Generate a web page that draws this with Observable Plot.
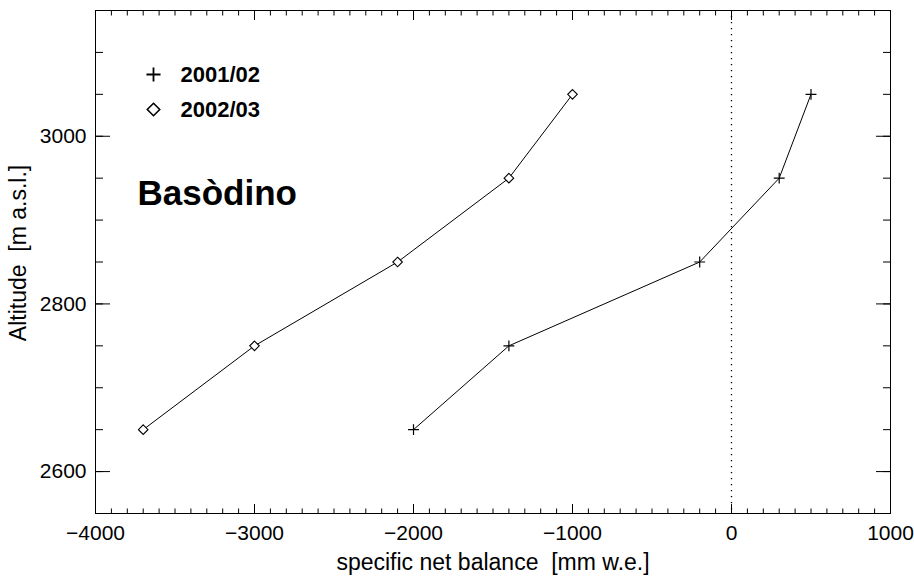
<!DOCTYPE html>
<html>
<head>
<meta charset="utf-8">
<script src="https://cdn.jsdelivr.net/npm/d3@7"></script>
<script src="https://cdn.jsdelivr.net/npm/@observablehq/plot@0.6"></script>
<style>
  html, body { margin: 0; padding: 0; background: #fff; }
  #chart svg { display: block; }
</style>
</head>
<body>
<div id="chart"></div>
<script>
// Data
const altitudes = [2650, 2750, 2850, 2950, 3050];
const balance2001 = [-2000, -1400, -200, 300, 500];
const balance2002 = [-3700, -3000, -2100, -1400, -1000];
const seriesNames = ["2001/02", "2002/03"];
const xTicks = [-4000, -3000, -2000, -1000, 0, 1000];
const yTicks = [2600, 2800, 3000];
const xMinorTicks = d3.range(-4000, 1001, 100);
const yMinorTicks = d3.range(2550, 3151, 50);
const xLabel = "specific net balance  [mm w.e.]";
const yLabel = "Altitude  [m a.s.l.]";
const glacier = "Basòdino";

const s1 = altitudes.map((a, i) => ({x: balance2001[i], y: a}));
const s2 = altitudes.map((a, i) => ({x: balance2002[i], y: a}));

const font = "'Liberation Sans', Arial, Helvetica, sans-serif";
const fmt = d => d < 0 ? "\u2212" + Math.abs(d) : String(d);

const chart = Plot.plot({
  width: 914,
  height: 576,
  marginLeft: 95,
  marginRight: 24,
  marginTop: 10,
  marginBottom: 63,
  style: {fontFamily: font, fontSize: "21px", color: "#000", background: "#fff"},
  x: {domain: [-4000, 1000]},
  y: {domain: [2550, 3150]},
  marks: [
    // zero line
    Plot.ruleX([0], {stroke: "#000", strokeWidth: 1.3, strokeDasharray: "1.3,4.7"}),
    // minor ticks
    Plot.axisX({anchor: "bottom", ticks: xMinorTicks, tickSize: -4.5, fill: "none", label: null}),
    Plot.axisX({anchor: "top", ticks: xMinorTicks, tickSize: -4.5, fill: "none", label: null}),
    Plot.axisY({anchor: "left", ticks: yMinorTicks, tickSize: -8, fill: "none", label: null}),
    Plot.axisY({anchor: "right", ticks: yMinorTicks, tickSize: -8, fill: "none", label: null}),
    // major ticks
    Plot.axisX({anchor: "bottom", ticks: xTicks, tickSize: -9, fill: "none", label: null}),
    Plot.axisX({anchor: "top", ticks: xTicks, tickSize: -9, fill: "none", label: null}),
    Plot.axisY({anchor: "left", ticks: yTicks, tickSize: -15, fill: "none", label: null}),
    Plot.axisY({anchor: "right", ticks: yTicks, tickSize: -15, fill: "none", label: null}),
    // tick labels
    Plot.axisX({anchor: "bottom", ticks: xTicks, tickSize: 0, tickPadding: 12, tickFormat: fmt, label: null, fontSize: 21}),
    Plot.axisY({anchor: "left", ticks: yTicks, tickSize: 0, tickPadding: 9, tickFormat: d => String(d), label: null, fontSize: 21}),
    // axis titles
    Plot.text([xLabel], {frameAnchor: "bottom", dy: 49, textAnchor: "middle", lineAnchor: "middle", fontSize: 23, fill: "#000"}),
    Plot.text([yLabel], {frameAnchor: "left", dx: -77, dy: -9, rotate: -90, textAnchor: "middle", lineAnchor: "middle", fontSize: 23, fill: "#000"}),
    Plot.frame({stroke: "#000", strokeWidth: 1}),
    // series
    Plot.line(s1, {x: "x", y: "y", stroke: "#000", strokeWidth: 1}),
    Plot.line(s2, {x: "x", y: "y", stroke: "#000", strokeWidth: 1}),
    Plot.dot(s1, {x: "x", y: "y", symbol: "plus", r: 3.6, stroke: "#000", strokeWidth: 1.2}),
    Plot.dot(s2, {x: "x", y: "y", symbol: "diamond2", r: 4.3, stroke: "#000", strokeWidth: 1.1, fill: "#fff"}),
    // legend
    Plot.dot([seriesNames[0]], {frameAnchor: "top-left", dx: 58, dy: 64, symbol: "plus", r: 4.6, stroke: "#000", strokeWidth: 1.8}),
    Plot.dot([seriesNames[1]], {frameAnchor: "top-left", dx: 58, dy: 99, symbol: "diamond2", r: 5.6, stroke: "#000", strokeWidth: 1.6}),
    Plot.text([seriesNames[0]], {frameAnchor: "top-left", dx: 85, dy: 64, text: d => d, textAnchor: "start", lineAnchor: "middle", fontSize: 22, fontWeight: "bold", fill: "#000"}),
    Plot.text([seriesNames[1]], {frameAnchor: "top-left", dx: 85, dy: 99, text: d => d, textAnchor: "start", lineAnchor: "middle", fontSize: 22, fontWeight: "bold", fill: "#000"}),
    Plot.text([glacier], {frameAnchor: "top-left", dx: 42, dy: 183, text: d => d, textAnchor: "start", lineAnchor: "middle", fontSize: 35, fontWeight: "bold", fill: "#000"})
  ]
});

document.getElementById("chart").appendChild(chart);
</script>
</body>
</html>
